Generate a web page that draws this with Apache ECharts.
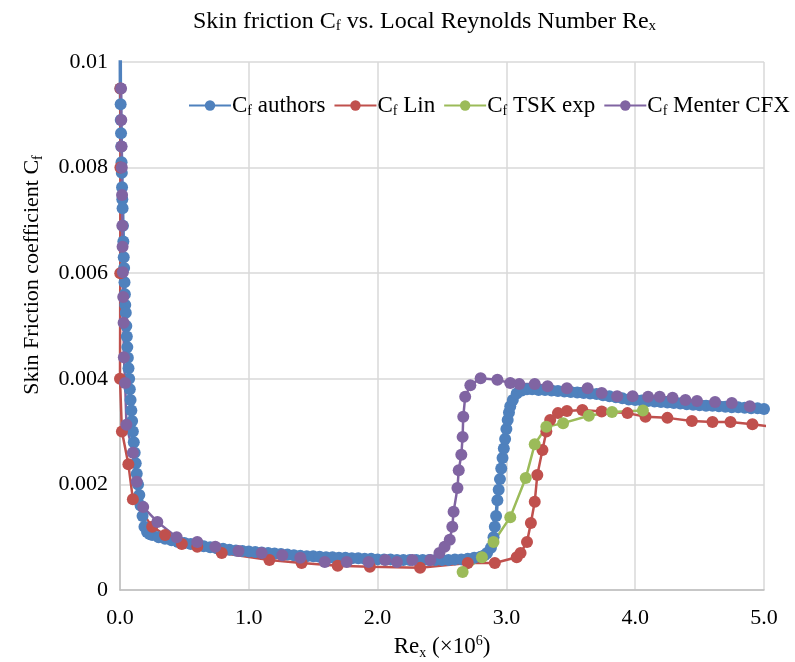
<!DOCTYPE html>
<html>
<head>
<meta charset="utf-8">
<script src="https://cdn.jsdelivr.net/npm/echarts@6/dist/echarts.min.js"></script>
<style>
  html, body { margin: 0; padding: 0; background: #fff; }
  #chart { width: 795px; height: 662px; }
</style>
</head>
<body>
<div id="chart"></div>
<script>
// Cf authors (Re in 1e6)
const authorsRe = [0.001, 0.003, 0.005, 0.006, 0.008, 0.010, 0.012, 0.014, 0.016, 0.018, 0.020, 0.023, 0.026, 0.029, 0.032, 0.035, 0.038, 0.041, 0.045, 0.049, 0.053, 0.057, 0.061, 0.066, 0.071, 0.076, 0.082, 0.088, 0.094, 0.100, 0.107, 0.114, 0.122, 0.130, 0.140, 0.150, 0.160, 0.175, 0.190, 0.210, 0.230,
  0.25, 0.30, 0.35, 0.40, 0.45, 0.50, 0.55, 0.60, 0.65, 0.70, 0.75, 0.80, 0.85, 0.90, 0.95, 1.00, 1.05, 1.10, 1.15, 1.20, 1.25, 1.30, 1.35, 1.40, 1.45, 1.50, 1.55, 1.60, 1.65, 1.70, 1.75, 1.80, 1.85, 1.90, 1.95, 2.00, 2.05, 2.10, 2.15, 2.20, 2.25, 2.30, 2.35, 2.40, 2.45, 2.50, 2.55, 2.60, 2.65, 2.70, 2.75, 2.80, 2.83,
  2.85, 2.88, 2.90, 2.91, 2.92, 2.93, 2.94, 2.95, 2.96, 2.97, 2.98, 2.99, 3.00, 3.01, 3.02, 3.03, 3.05, 3.08, 3.12, 3.16, 3.20, 3.25, 3.30, 3.35, 3.40, 3.45, 3.50, 3.55, 3.60, 3.65, 3.70, 3.75, 3.80, 3.85, 3.90, 3.95, 4.00, 4.05, 4.10, 4.15, 4.20, 4.25, 4.30, 4.35, 4.40, 4.45, 4.50, 4.55, 4.60, 4.65, 4.70, 4.75, 4.80, 4.85, 4.90, 4.95, 5.00];
const authorsCf = [0.0110, 0.0095, 0.0092, 0.0089, 0.00865, 0.0084, 0.0081, 0.0079, 0.00763, 0.0074, 0.00723, 0.0069, 0.0066, 0.0063, 0.0061, 0.00583, 0.0056, 0.0054, 0.00525, 0.0050, 0.0048, 0.0046, 0.0044, 0.0042, 0.0040, 0.0038, 0.0036, 0.0034, 0.0032, 0.0030, 0.0028, 0.0026, 0.0024, 0.0022, 0.0020, 0.0018, 0.0016, 0.0014, 0.0012, 0.00110, 0.00106,
  0.00104, 0.00100, 0.00097, 0.00094, 0.00091, 0.00089, 0.00087, 0.00085, 0.00083, 0.00081, 0.00079, 0.00078, 0.00076, 0.00075, 0.00074, 0.00073, 0.00072, 0.00071, 0.00070, 0.00069, 0.00068, 0.00067, 0.00066, 0.00065, 0.00064, 0.00064, 0.00063, 0.00062, 0.00062, 0.00061, 0.00061, 0.00060, 0.00060, 0.00059, 0.00059, 0.00058, 0.00058, 0.00058, 0.00057, 0.00057, 0.00057, 0.00057, 0.00057, 0.00057, 0.00057, 0.00057, 0.00057, 0.00058, 0.00058, 0.00059, 0.00061, 0.00063, 0.00066,
  0.00070, 0.00080, 0.00100, 0.00120, 0.00140, 0.00170, 0.00190, 0.00210, 0.00230, 0.00250, 0.00268, 0.00286, 0.00305, 0.00322, 0.00336, 0.00348, 0.00360, 0.00372, 0.00378, 0.00380, 0.00380, 0.00379, 0.00379, 0.00378, 0.00377, 0.00376, 0.00375, 0.00374, 0.00373, 0.00372, 0.00371, 0.00369, 0.00367, 0.00365, 0.00363, 0.00361, 0.00360, 0.00359, 0.00358, 0.00357, 0.00356, 0.00355, 0.00354, 0.00353, 0.00352, 0.00351, 0.00350, 0.00349, 0.00349, 0.00348, 0.00347, 0.00346, 0.00346, 0.00345, 0.00344, 0.00344, 0.00343];

// Cf Lin
const linRe = [0.003, 0.003, 0.002, 0.000, 0.015, 0.065, 0.10, 0.25, 0.35, 0.48, 0.60, 0.79, 1.16, 1.41, 1.69, 1.94, 2.33, 2.70, 2.91, 3.08, 3.11, 3.16, 3.19, 3.22, 3.24, 3.28, 3.31, 3.34, 3.40, 3.47, 3.59, 3.74, 3.94, 4.08, 4.25, 4.44, 4.60, 4.74, 4.91, 5.03];
const linCf = [0.0095, 0.0080, 0.0060, 0.0040, 0.0030, 0.00238, 0.00172, 0.00120, 0.00104, 0.00087, 0.00082, 0.00070, 0.00057, 0.00051, 0.00046, 0.00044, 0.00042, 0.00051, 0.00051, 0.00062, 0.00070, 0.00091, 0.00127, 0.00167, 0.00218, 0.00265, 0.00300, 0.00322, 0.00335, 0.00339, 0.00341, 0.00338, 0.00335, 0.00328, 0.00326, 0.00320, 0.00318, 0.00318, 0.00314, 0.00310];

// Cf TSK exp
const tskRe = [2.66, 2.81, 2.90, 3.03, 3.15, 3.22, 3.31, 3.44, 3.64, 3.82, 4.06];
const tskCf = [0.00034, 0.00062, 0.00091, 0.00138, 0.00212, 0.00276, 0.00309, 0.00316, 0.00330, 0.00337, 0.00340];

// Cf Menter CFX
const menterRe = [0.008, 0.010, 0.012, 0.014, 0.016, 0.018, 0.020, 0.022, 0.025, 0.028, 0.030, 0.040, 0.050, 0.10, 0.13, 0.18, 0.29, 0.44, 0.60, 0.74, 0.92, 1.10, 1.26, 1.40, 1.59, 1.76, 1.93, 2.06, 2.15, 2.27, 2.41, 2.48, 2.52, 2.56, 2.58, 2.59, 2.62, 2.63, 2.65, 2.66, 2.665, 2.68, 2.72, 2.80, 2.93, 3.03, 3.10, 3.22, 3.32, 3.47, 3.63, 3.74, 3.86, 3.98, 4.10, 4.19, 4.29, 4.39, 4.48, 4.62, 4.75, 4.89];
const menterCf = [0.0095, 0.0089, 0.0084, 0.0080, 0.00748, 0.0069, 0.0065, 0.00602, 0.00555, 0.00506, 0.00441, 0.00392, 0.00313, 0.0026, 0.00205, 0.00157, 0.00129, 0.00100, 0.00091, 0.00082, 0.00074, 0.00070, 0.00066, 0.00061, 0.00053, 0.00053, 0.00053, 0.00057, 0.00053, 0.00057, 0.00057, 0.00070, 0.00082, 0.00095, 0.00120, 0.00148, 0.00193, 0.00227, 0.00256, 0.00290, 0.00328, 0.00366, 0.00388, 0.00401, 0.00398, 0.00392, 0.00390, 0.00390, 0.00386, 0.00382, 0.00382, 0.00373, 0.00367, 0.00367, 0.00366, 0.00366, 0.00364, 0.00360, 0.00358, 0.00356, 0.00354, 0.00348];

const xTicks = [0, 1, 2, 3, 4, 5];
const yTicks = [0, 0.002, 0.004, 0.006, 0.008, 0.01];

const seriesNames = ['Cf authors', 'Cf Lin', 'Cf TSK exp', 'Cf Menter CFX'];
const legendLabels = {
  'Cf authors': 'C{s|f} authors',
  'Cf Lin': 'C{s|f} Lin',
  'Cf TSK exp': 'C{s|f} TSK exp',
  'Cf Menter CFX': 'C{s|f} Menter CFX'
};
const colors = ['#4F81BD', '#C0504D', '#9BBB59', '#8064A2'];

const FONT = '"Liberation Serif", "DejaVu Serif", serif';

function pairs(xs, ys) {
  return xs.map((x, i) => [x, ys[i]]);
}

const chart = echarts.init(document.getElementById('chart'));

const mkSeries = (name, xs, ys, color, width) => ({
  name: name,
  type: 'line',
  data: pairs(xs, ys),
  symbol: 'circle',
  symbolSize: 12,
  showAllSymbol: true,
  clip: true,
  lineStyle: { color: color, width: width },
  itemStyle: { color: color },
  emphasis: { disabled: true },
  animation: false
});

const option = {
  animation: false,
  color: colors,
  title: {
    text: 'Skin friction C{s|f} vs. Local Reynolds Number Re{s|x}',
    left: 188,
    top: 4,
    textStyle: {
      fontFamily: FONT,
      fontSize: 24,
      fontWeight: 'normal',
      color: '#000',
      rich: {
        s: { fontFamily: FONT, fontSize: 15, verticalAlign: 'bottom', padding: [10, 0, 0, 0], color: '#000' }
      }
    }
  },
  legend: {
    data: seriesNames,
    left: 183,
    top: 89,
    itemWidth: 42,
    itemHeight: 13,
    itemGap: 8,
    formatter: name => legendLabels[name],
    textStyle: {
      fontFamily: FONT,
      fontSize: 23,
      color: '#000',
      padding: [0, 0, 0, -4],
      rich: {
        s: { fontFamily: FONT, fontSize: 14, color: '#000', padding: [12, 0, 0, 0] }
      }
    }
  },
  grid: { left: 120, right: 31, top: 62, bottom: 72, containLabel: false, outerBoundsMode: 'none' },
  xAxis: {
    type: 'value',
    min: xTicks[0],
    max: xTicks[xTicks.length - 1],
    interval: 1,
    name: 'Re{s|x} (×10{p|6})',
    nameLocation: 'middle',
    nameGap: 43,
    nameTextStyle: {
      fontFamily: FONT,
      fontSize: 23,
      color: '#000',
      rich: {
        s: { fontFamily: FONT, fontSize: 14, color: '#000', padding: [12, 0, 0, 0] },
        p: { fontFamily: FONT, fontSize: 14, color: '#000', padding: [0, 0, 12, 0] }
      }
    },
    axisLine: { show: true, lineStyle: { color: '#BFBFBF', width: 1.5 } },
    axisTick: { show: false },
    axisLabel: {
      fontFamily: FONT,
      fontSize: 22,
      color: '#000',
      margin: 17,
      formatter: v => v.toFixed(1)
    },
    splitLine: { show: true, lineStyle: { color: '#D9D9D9', width: 1.5 } }
  },
  yAxis: {
    type: 'value',
    min: yTicks[0],
    max: yTicks[yTicks.length - 1],
    interval: 0.002,
    axisLine: { show: true, lineStyle: { color: '#BFBFBF', width: 1.5 } },
    axisTick: { show: false },
    axisLabel: {
      fontFamily: FONT,
      fontSize: 22,
      color: '#000',
      margin: 12,
      formatter: v => (v === 0 ? '0' : String(+v.toFixed(3)))
    },
    splitLine: { show: true, lineStyle: { color: '#D9D9D9', width: 1.5 } }
  },
  graphic: [{
    type: 'text',
    x: 32,
    y: 275,
    rotation: Math.PI / 2,
    style: {
      text: 'Skin Friction coefficient C{s|f}',
      fontFamily: FONT,
      fontSize: 22,
      fill: '#000',
      align: 'center',
      verticalAlign: 'middle',
      rich: {
        s: { fontFamily: FONT, fontSize: 14, fill: '#000', padding: [12, 0, 0, 0] }
      }
    }
  }],
  series: [
    mkSeries(seriesNames[0], authorsRe, authorsCf, colors[0], 3.5),
    mkSeries(seriesNames[1], linRe, linCf, colors[1], 2.5),
    mkSeries(seriesNames[2], tskRe, tskCf, colors[2], 2.5),
    mkSeries(seriesNames[3], menterRe, menterCf, colors[3], 2.5)
  ]
};

chart.setOption(option);
</script>
</body>
</html>
